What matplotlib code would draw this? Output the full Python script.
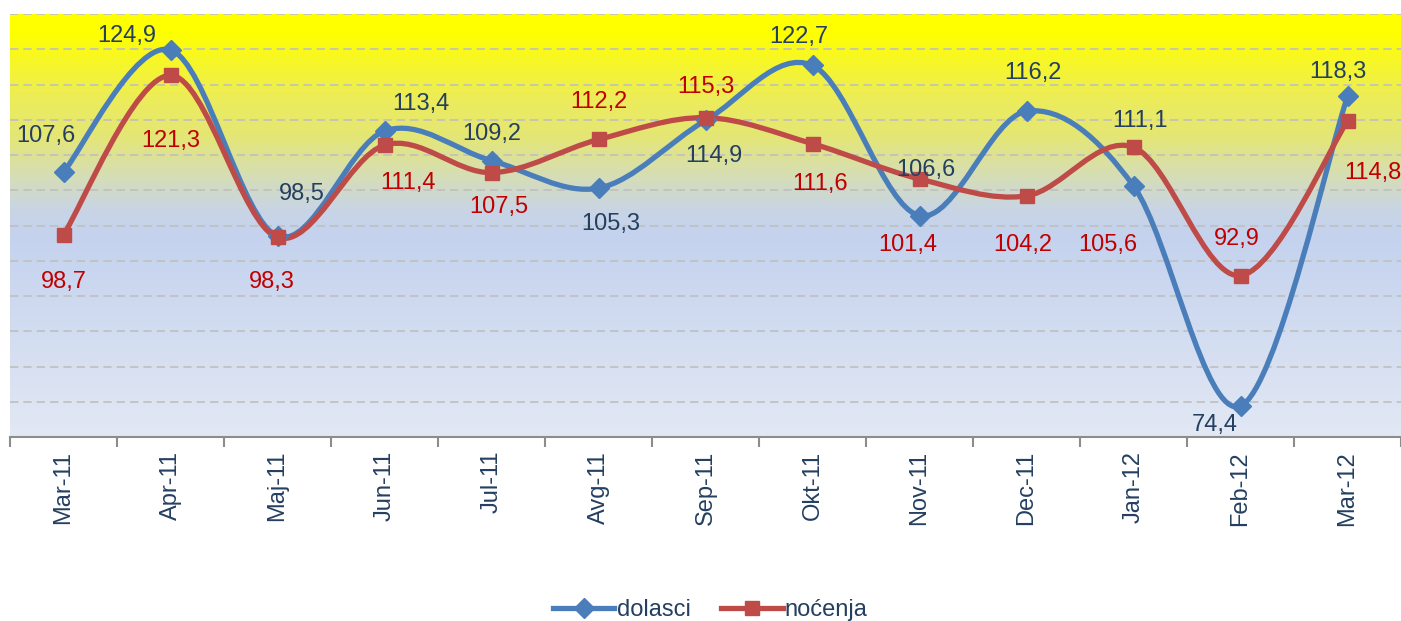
import numpy as np
import matplotlib.pyplot as plt
from matplotlib.path import Path
from matplotlib.patches import PathPatch
from matplotlib.colors import LinearSegmentedColormap
from matplotlib.lines import Line2D

plt.rcParams['font.family'] = ['Liberation Sans', 'DejaVu Sans']

months = ['Mar-11', 'Apr-11', 'Maj-11', 'Jun-11', 'Jul-11', 'Avg-11', 'Sep-11',
          'Okt-11', 'Nov-11', 'Dec-11', 'Jan-12', 'Feb-12', 'Mar-12']
# values as plotted
dolasci = [107.6, 124.9, 98.5, 113.4, 109.2, 105.3, 114.9, 122.7, 101.4, 116.2, 105.6, 74.4, 118.3]
nocenja = [98.7, 121.3, 98.3, 111.4, 107.5, 112.2, 115.3, 111.6, 106.6, 104.2, 111.1, 92.9, 114.8]
# data labels as printed on the chart
lab_dol = ['107,6', '124,9', '98,5', '113,4', '109,2', '105,3', '114,9',
           '122,7', '106,6', '116,2', '111,1', '74,4', '118,3']
lab_noc = ['98,7', '121,3', '98,3', '111,4', '107,5', '112,2', '115,3',
           '111,6', '101,4', '104,2', '105,6', '92,9', '114,8']

# label offsets in pixels (dx, dy)
off_dol = [(-18, 36), (-44, 14), (24, 42), (36, 27), (0, 27), (12, -36), (8, -36),
           (-14, 28), (6, 46), (6, 38), (6, 65), (-26, -19), (-10, 24)]
off_noc = [(0, -47), (0, -66), (-6, -45), (24, -38), (7, -34), (0, 37), (0, 31),
           (8, -40), (-12, -66), (-4, -49), (-26, -98), (-4, 37), (25, -52)]

BLUE = '#4A7EBB'
RED = '#BE4B48'
NAVY = '#243F60'
DRED = '#C00000'


def smooth_path(xs, ys):
    pts = np.column_stack([xs, ys]).astype(float)
    n = len(pts)
    verts = [pts[0]]
    codes = [Path.MOVETO]
    for i in range(n - 1):
        p0 = pts[max(i - 1, 0)]
        p1 = pts[i]
        p2 = pts[i + 1]
        p3 = pts[min(i + 2, n - 1)]
        c1 = p1 + (p2 - p0) / 6.0
        c2 = p2 - (p3 - p1) / 6.0
        verts += [c1, c2, p2]
        codes += [Path.CURVE4] * 3
    return Path(verts, codes)


fig = plt.figure(figsize=(14.01, 6.21), dpi=100)
ax = fig.add_axes([10 / 1401, 1 - 437 / 621, 1391 / 1401, 423 / 621])

cmap = LinearSegmentedColormap.from_list('bg', [
    (0.0, '#FFFF00'), (0.04, '#FFFF00'), (0.2, '#ECEC5A'), (0.29, '#E4E676'),
    (0.38, '#D6DEB4'), (0.46, '#C9D5E4'), (0.52, '#C4D2EE'), (1.0, '#E2E8F4')])
grad = np.linspace(0, 1, 256).reshape(-1, 1)
ax.imshow(grad, aspect='auto', cmap=cmap, extent=[0, 1, 0, 1],
          transform=ax.transAxes, zorder=0)

x = np.arange(len(months))
ax.set_xlim(-0.5, len(months) - 0.5)
ax.set_ylim(70, 130)
ax.set_yticks(np.arange(75, 131, 5))
ax.yaxis.grid(True, color='#BFBFBF', linestyle=(0, (5, 3)), linewidth=1.2, zorder=1)
ax.set_axisbelow(True)

for ys, col, mk in [(dolasci, BLUE, 'D'), (nocenja, RED, 's')]:
    ax.add_patch(PathPatch(smooth_path(x, ys), facecolor='none', edgecolor=col,
                           linewidth=3.8, zorder=3, capstyle='round'))
    ax.plot(x, ys, linestyle='none', marker=mk, markersize=10, color=col, zorder=4)

for i in range(len(months)):
    ax.annotate(lab_dol[i], (x[i], dolasci[i]), xytext=off_dol[i],
                textcoords='offset pixels', ha='center', va='center',
                fontsize=17, color=NAVY, zorder=5)
    ax.annotate(lab_noc[i], (x[i], nocenja[i]), xytext=off_noc[i],
                textcoords='offset pixels', ha='center', va='center',
                fontsize=17, color=DRED, zorder=5)

ax.set_xticks(x)
ax.set_xticklabels(months, rotation=90, fontsize=17, color=NAVY)
ax.tick_params(axis='x', which='major', length=0, pad=10)
ax.set_xticks(np.arange(-0.5, len(months), 1), minor=True)
ax.tick_params(axis='x', which='minor', length=7, width=1.5, color='#8C8C8C')
ax.tick_params(axis='y', left=False, labelleft=False)
for s in ['top', 'right', 'left']:
    ax.spines[s].set_visible(False)
ax.spines['bottom'].set_color('#8C8C8C')
ax.spines['bottom'].set_linewidth(1.5)

handles = [Line2D([], [], color=BLUE, lw=3.8, marker='D', markersize=10),
           Line2D([], [], color=RED, lw=3.8, marker='s', markersize=10)]
fig.legend(handles, ['dolasci', 'noćenja'], loc='center', bbox_to_anchor=(0.507, 0.018),
           ncol=2, frameon=False, fontsize=17, handlelength=2.6, handletextpad=0.1,
           columnspacing=1.3, labelcolor=NAVY)

fig.savefig('out.png', dpi=100)
